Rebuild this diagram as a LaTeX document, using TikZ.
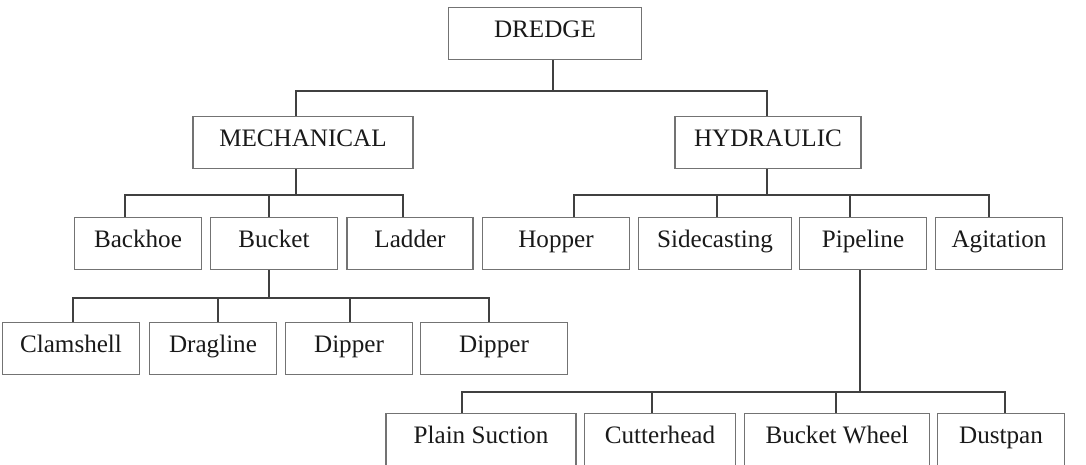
\documentclass[tikz,border=0pt]{standalone}
\usepackage{fontspec}
\setmainfont{Liberation Serif}
\usetikzlibrary{arrows}

\begin{document}
\begin{tikzpicture}[x=0.02cm,y=-0.02cm]
      \tikzstyle{box}=[rectangle,draw=black!55,line width=0.8pt,anchor=north,
        minimum height=1.04cm,inner ysep=0pt,text height=0.6cm,text depth=0.44cm,
        font=\fontsize{14.3}{16}\selectfont,text=black!90]
      \tikzstyle{ln}=[draw=black!75,line width=1.1pt]

      \useasboundingbox (0,0) rectangle (1086,465);

      % top levels
      \node[box,minimum width=3.86cm] (dredge) at (545,7)   {DREDGE};
      \node[box,minimum width=4.4cm]  (mech)   at (303,116) {MECHANICAL};
      \node[box,minimum width=3.72cm] (hyd)    at (768,116) {HYDRAULIC};

      % second row
      \node[box,minimum width=2.54cm] (back)  at (138,217) {Backhoe};
      \node[box,minimum width=2.54cm] (buck)  at (274,217) {Bucket};
      \node[box,minimum width=2.52cm] (ladd)  at (410,217) {Ladder};
      \node[box,minimum width=2.94cm] (hop)   at (556,217) {Hopper};
      \node[box,minimum width=3.06cm] (side)  at (715,217) {Sidecasting};
      \node[box,minimum width=2.54cm] (pipe)  at (863,217) {Pipeline};
      \node[box,minimum width=2.54cm] (agit)  at (999,217) {Agitation};

      % bucket types
      \node[box,minimum width=2.74cm] (clam)  at (71,322)  {Clamshell};
      \node[box,minimum width=2.54cm] (drag)  at (213,322) {Dragline};
      \node[box,minimum width=2.54cm] (dip)   at (349,322) {Dipper};
      \node[box,minimum width=2.94cm] (dipb)  at (494,322) {Dipper};

      % pipeline types
      \node[box,minimum width=3.8cm]  (plain) at (481,413)  {Plain Suction};
      \node[box,minimum width=3.02cm] (cutt)  at (660,413)  {Cutterhead};
      \node[box,minimum width=3.7cm]  (bwh)   at (837,413)  {Bucket Wheel};
      \node[box,minimum width=2.54cm] (dust)  at (1001,413) {Dustpan};

      % connectors
      \draw[ln] ([shift={(8,0)}]dredge.south) -- ++(0,31) coordinate (dbus);
      \draw[ln] (dbus) -| ([shift={(-7,0)}]mech.north);
      \draw[ln] (dbus) -| ([shift={(-1,0)}]hyd.north);

      \draw[ln] ([shift={(-7,0)}]mech.south) -- ++(0,26) coordinate (mbus);
      \draw[ln] (mbus) -| ([shift={(-13,0)}]back.north);
      \draw[ln] (mbus) -| ([shift={(-5,0)}]buck.north);
      \draw[ln] (mbus) -| ([shift={(-7,0)}]ladd.north);

      \draw[ln] ([shift={(-1,0)}]hyd.south) -- ++(0,26) coordinate (hbus);
      \draw[ln] (hbus) -| ([shift={(18,0)}]hop.north);
      \draw[ln] (hbus) -| ([shift={(2,0)}]side.north);
      \draw[ln] (hbus) -| ([shift={(-13,0)}]pipe.north);
      \draw[ln] (hbus) -| ([shift={(-10,0)}]agit.north);

      \draw[ln] ([shift={(-5,0)}]buck.south) -- ++(0,28) coordinate (bbus);
      \draw[ln] (bbus) -| ([shift={(2,0)}]clam.north);
      \draw[ln] (bbus) -| ([shift={(5,0)}]drag.north);
      \draw[ln] (bbus) -| ([shift={(1,0)}]dip.north);
      \draw[ln] (bbus) -| ([shift={(-5,0)}]dipb.north);

      \draw[ln] ([shift={(-3,0)}]pipe.south) -- ++(0,122) coordinate (pbus);
      \draw[ln] (pbus) -| ([shift={(-19,0)}]plain.north);
      \draw[ln] (pbus) -| ([shift={(-8,0)}]cutt.north);
      \draw[ln] (pbus) -| ([shift={(-1,0)}]bwh.north);
      \draw[ln] (pbus) -| ([shift={(4,0)}]dust.north);
\end{tikzpicture}
\end{document}
